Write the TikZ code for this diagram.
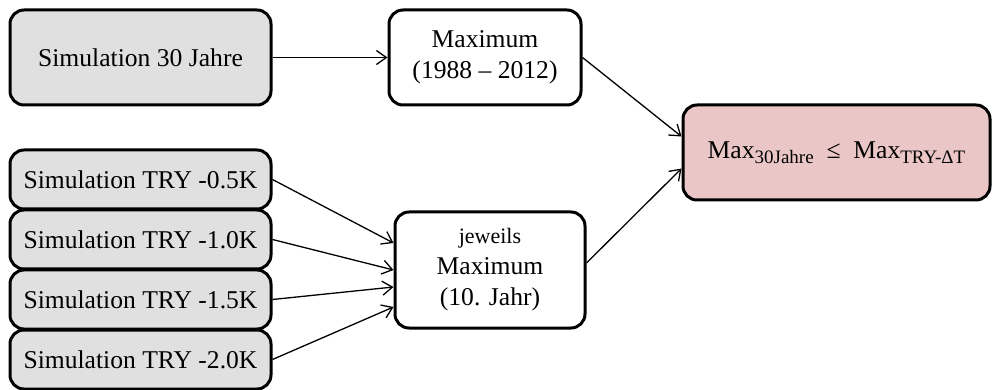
\documentclass[tikz,border=0pt]{standalone}
\usepackage{fontspec}
\setmainfont{Liberation Serif}
\usetikzlibrary{positioning,arrows.meta}

\definecolor{simgray}{HTML}{E0E0E0}
\definecolor{respink}{HTML}{EBC6C6}
\newcommand{\lowtext}[1]{\raisebox{-0.45ex}{\fontsize{9.5}{11}\selectfont #1}}

\begin{document}
\begin{tikzpicture}[x=0.5pt, y=-0.5pt, font=\fontsize{12.8}{15.5}\selectfont]

        \tikzset{box/.style = {rectangle, rounded corners=7pt, line width=1.5pt, draw=black, align=center, inner sep=0pt}}
        \tikzset{simbox/.style = {box, fill=simgray, minimum width=130.5pt}}
        \tikzset{maxbox/.style = {box, fill=white}}
        \tikzset{resbox/.style = {box, fill=respink, minimum width=153.5pt, minimum height=47.5pt}}
        \tikzset{arrow/.style = {line width=0.65pt, -{Straight Barb[length=5pt, width=7pt]}}}

        \useasboundingbox (0,0) rectangle (992,390);

        \node (sim30) [simbox, minimum height=47.5pt] at (140.5,57.5) {Simulation 30 Jahre};
        \node (maxA) [maxbox, minimum width=96pt, minimum height=47.5pt] at (485,57.5) {Maximum\\(1988 -- 2012)};

        \node (try05) [simbox, minimum height=29.5pt] at (140.5,179.5) {Simulation TRY -0.5K};
        \node (try10) [simbox, minimum height=29.5pt, below=-1pt of try05] {Simulation TRY -1.0K};
        \node (try15) [simbox, minimum height=29.5pt, below=-1pt of try10] {Simulation TRY -1.5K};
        \node (try20) [simbox, minimum height=29.5pt, below=-1pt of try15] {Simulation TRY -2.0K};

        \node (maxB) [maxbox, minimum width=95pt, minimum height=58pt] at (490,270) {{\fontsize{11}{13}\selectfont jeweils}\\Maximum\\(10. Jahr)};

        \node (result) [resbox] at (836.5,152.5) {Max\lowtext{30Jahre} ~≤~ Max\lowtext{TRY-ΔT}};

        % Arrows
        \draw [arrow] (sim30) -- (maxA);
        \draw [arrow] (try05.east) -- ([yshift=13.5pt]maxB.west);
        \draw [arrow] (try10.east) -- (maxB.west);
        \draw [arrow] (try15.east) -- ([yshift=-8.5pt]maxB.west);
        \draw [arrow] (try20.east) -- ([yshift=-18.5pt]maxB.west);
        \draw [arrow] (maxA.east) -- ([yshift=8pt]result.west);
        \draw [arrow] ([yshift=3.5pt]maxB.east) -- ([yshift=-8pt]result.west);

    \end{tikzpicture}
\end{document}
